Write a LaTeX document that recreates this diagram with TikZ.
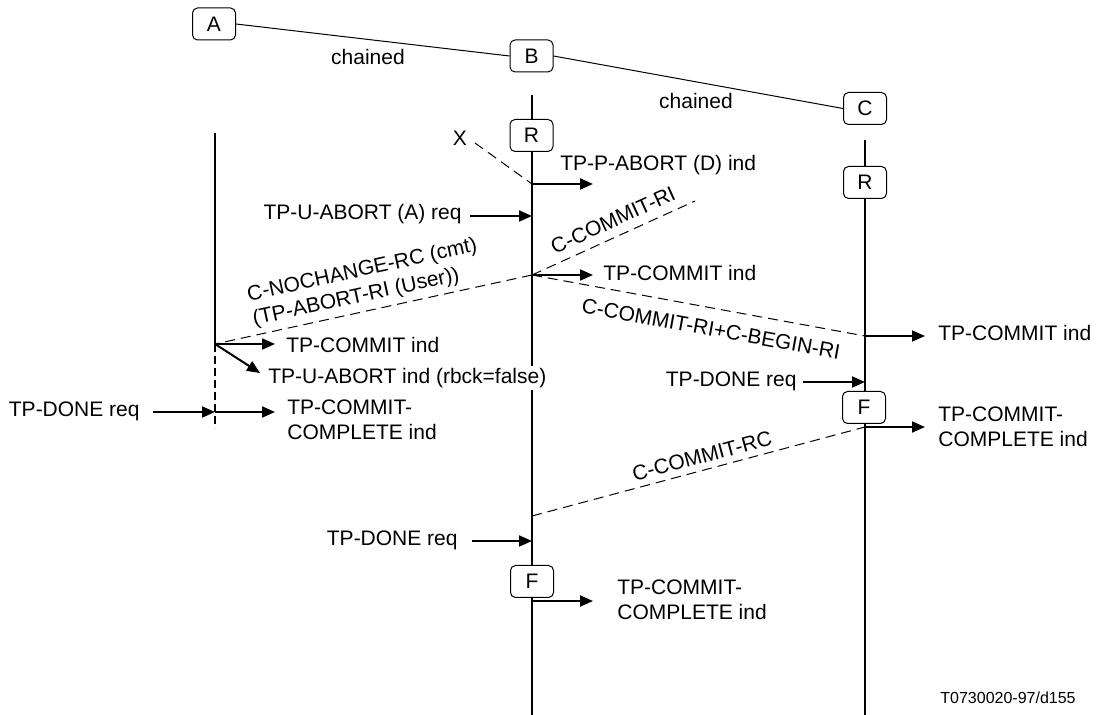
\documentclass[tikz,border=0pt]{standalone}
\usepackage{fontspec}
\setmainfont{Liberation Sans}
\usetikzlibrary{arrows.meta}
\begin{document}
\begin{tikzpicture}[x=0.5pt,y=-0.5pt,
  every node/.style={font=\fontsize{10.5}{12.5}\selectfont, inner sep=0pt},
  box/.style={draw, line width=0.5pt, rounded corners=2.5pt, minimum width=21.5pt, minimum height=16pt, fill=white},
  life/.style={line width=1pt},
  msg/.style={line width=1pt, -{Triangle[length=6.5pt,width=5.5pt]}},
  flow/.style={line width=0.5pt, dash pattern=on 5pt off 3pt},
  link/.style={line width=0.5pt},
  vdash/.style={line width=1pt, dash pattern=on 4pt off 2pt}
]
\useasboundingbox (0,0) rectangle (1099,715);

% header boxes
\node[box] (A) at (214,24) {A};
\node[box] (B) at (531.5,56) {B};
\node[box] (C) at (865,108.5) {C};
\draw[link] (A.east) -- (B.west);
\draw[link] (B.east) -- (C.west);
\node (ch1) at (368,57) {chained};
\node (ch2) at (696,101) {chained};

% lifelines
\coordinate (Btop) at (532,95);
\coordinate (Bbot) at (532,715);
\coordinate (Ctop) at (865,140);
\coordinate (Cbot) at (865,715);
\coordinate (Ltop) at (215,133);
\coordinate (L1) at (215,344);
\coordinate (l2) at (215,412);
\coordinate (Lbot) at (215,428);
\draw[life] (Btop) -- (Bbot);
\draw[life] (Ctop) -- (Cbot);
\draw[life] (Ltop) -- (L1);
\draw[vdash] (L1) -- (Lbot);

% state boxes on lifelines
\node[box] (RB) at (531.5,135.5) {R};
\node[box] (RC) at (865,182.5) {R};
\node[box] (FC) at (864,407.5) {F};
\node[box] (FB) at (532,581.5) {F};

% event points
\coordinate (b1) at (532,184);
\coordinate (b2) at (532,216);
\coordinate (b3) at (532,275);
\coordinate (b4) at (532,516);
\coordinate (b5) at (532,541);
\coordinate (b6) at (532,601);
\coordinate (c1) at (865,336);
\coordinate (c2) at (865,382);
\coordinate (c3) at (865,427);

% X
\node (X) at (460,138) {X};
\coordinate (xs) at (475,143);
\draw[flow] (xs) -- (b1);

% B events
\coordinate (pa) at (593,184);
\draw[msg] (b1) -- (pa);
\node[anchor=west] (tpa) at (560,165) {TP-P-ABORT (D) ind};

\coordinate (ua) at (470,216);
\draw[msg] (ua) -- (b2);
\node[anchor=east] (tua) at (462,214) {TP-U-ABORT (A) req};

\coordinate (cri) at (695,201);
\draw[flow] (b3) -- (cri);
\node[rotate=24.5] (lcri) at (613,220) {C-COMMIT-RI};

\coordinate (tc) at (593,275);
\draw[msg] (b3) -- (tc);
\node[anchor=west] (ttc) at (603,273) {TP-COMMIT ind};

\draw[flow] (b3) -- (L1);
\node[rotate=12.3, align=left] (lnc) at (365,283) {C-NOCHANGE-RC (cmt)\\(TP-ABORT-RI (User))};

\draw[flow] (b3) -- (c1);
\node[rotate=-10.4] (lcb) at (711,329) {C-COMMIT-RI+C-BEGIN-RI};

% C events
\coordinate (tcc) at (925,336);
\draw[msg] (c1) -- (tcc);
\node[anchor=west] (ttcc) at (938,333) {TP-COMMIT ind};

\coordinate (dc) at (803,382);
\draw[msg] (dc) -- (c2);
\node[anchor=east] (tdc) at (797,381) {TP-DONE req};

\coordinate (ccc) at (925,427);
\draw[msg] (c3) -- (ccc);
\node[anchor=west, align=left] (tccc) at (938,427) {TP-COMMIT-\\COMPLETE ind};

\draw[flow] (b4) -- (c3);
\node[rotate=15] (lcrc) at (702,456) {C-COMMIT-RC};

% B lower events
\coordinate (db) at (472,541);
\draw[msg] (db) -- (b5);
\node[anchor=east] (tdb) at (458,540) {TP-DONE req};

\coordinate (ccb) at (593,601);
\draw[msg] (b6) -- (ccb);
\node[anchor=west, align=left] (tccb) at (617,600) {TP-COMMIT-\\COMPLETE ind};

% left lifeline events
\coordinate (lc) at (275,344);
\draw[msg] (L1) -- (lc);
\node[anchor=west] (tlc) at (286,345) {TP-COMMIT ind};

\coordinate (lu) at (260,373);
\draw[msg] (L1) -- (lu);
\node[anchor=west, fill=white, inner sep=1pt] (tlu) at (266,378) {TP-U-ABORT ind (rbck=false)};

\coordinate (ld) at (153,412);
\draw[msg] (ld) -- (l2);
\node[anchor=east] (tld) at (140,411) {TP-DONE req};

\coordinate (lcc) at (275,412);
\draw[msg] (l2) -- (lcc);
\node[anchor=west, align=left] (tlcc) at (287,420) {TP-COMMIT-\\COMPLETE ind};

% reference code
\node[font=\fontsize{8}{10}\selectfont] (ref) at (1008,698) {T0730020-97/d155};
\end{tikzpicture}
\end{document}
